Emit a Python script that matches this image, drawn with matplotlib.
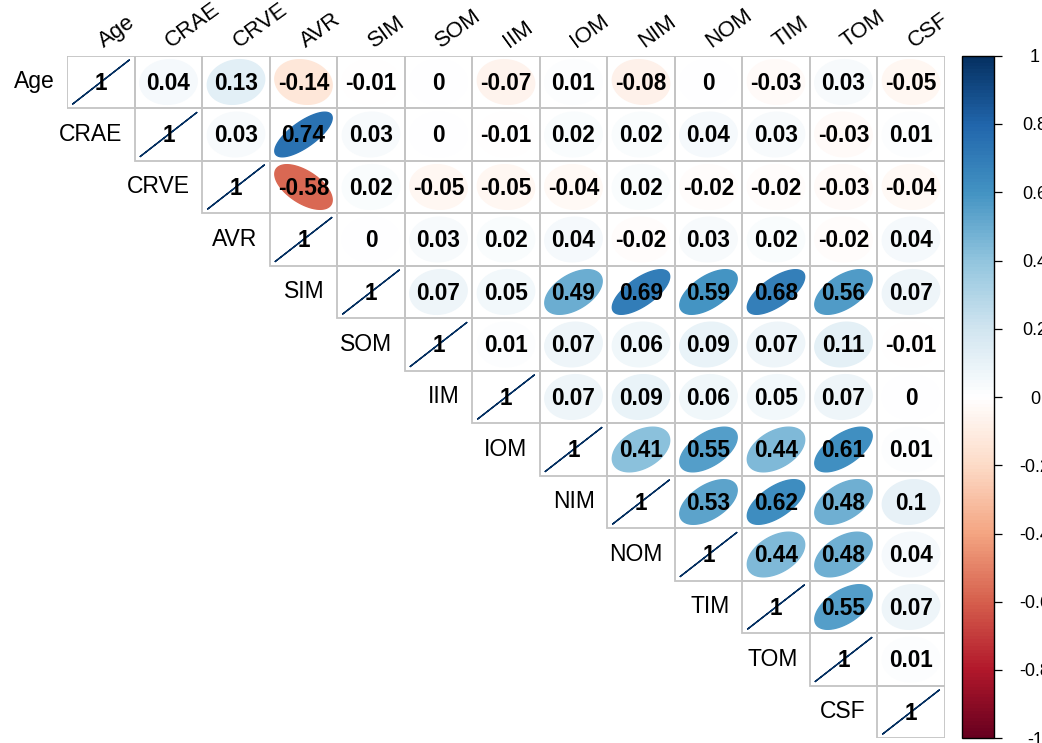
import numpy as np
import matplotlib
matplotlib.use("Agg")
import matplotlib as mpl
import matplotlib.pyplot as plt
from matplotlib.colors import LinearSegmentedColormap, Normalize
from matplotlib.patches import Polygon, Rectangle

# ---------------- data ----------------
labels = ["Age", "CRAE", "CRVE", "AVR", "SIM", "SOM", "IIM", "IOM",
          "NIM", "NOM", "TIM", "TOM", "CSF"]

# upper triangle rows (starting at the diagonal)
row_age  = [1, 0.04, 0.13, -0.14, -0.01, 0, -0.07, 0.01, -0.08, 0, -0.03, 0.03, -0.05]
row_crae = [1, 0.03, 0.74, 0.03, 0, -0.01, 0.02, 0.02, 0.04, 0.03, -0.03, 0.01]
row_crve = [1, -0.58, 0.02, -0.05, -0.05, -0.04, 0.02, -0.02, -0.02, -0.03, -0.04]
row_avr  = [1, 0, 0.03, 0.02, 0.04, -0.02, 0.03, 0.02, -0.02, 0.04]
row_sim  = [1, 0.07, 0.05, 0.49, 0.69, 0.59, 0.68, 0.56, 0.07]
row_som  = [1, 0.01, 0.07, 0.06, 0.09, 0.07, 0.11, -0.01]
row_iim  = [1, 0.07, 0.09, 0.06, 0.05, 0.07, 0]
row_iom  = [1, 0.41, 0.55, 0.44, 0.61, 0.01]
row_nim  = [1, 0.53, 0.62, 0.48, 0.1]
row_nom  = [1, 0.44, 0.48, 0.04]
row_tim  = [1, 0.55, 0.07]
row_tom  = [1, 0.01]
row_csf  = [1]

upper_rows = [row_age, row_crae, row_crve, row_avr, row_sim, row_som, row_iim,
              row_iom, row_nim, row_nom, row_tim, row_tom, row_csf]

cbar_ticks = [1, 0.8, 0.6, 0.4, 0.2, 0, -0.2, -0.4, -0.6, -0.8, -1]
cbar_tick_labels = ["1", "0.8", "0.6", "0.4", "0.2", "0", "-0.2", "-0.4", "-0.6", "-0.8", "-1"]

palette = ["#67001F", "#B2182B", "#D6604D", "#F4A582", "#FDDBC7", "#FFFFFF",
           "#D1E5F0", "#92C5DE", "#4393C3", "#2166AC", "#053061"]

# ---------------- plot ----------------
plt.rcParams['font.family'] = ['Liberation Sans', 'DejaVu Sans']
cmap = LinearSegmentedColormap.from_list("rdbu", palette, N=200)
norm = Normalize(-1, 1)

W, H = 1042, 743
fig = plt.figure(figsize=(W / 100, H / 100), dpi=100)
fig.patch.set_facecolor("white")

left, right, top, bottom = 67.25, 944.75, 55.75, 738.25
ax = fig.add_axes([left / W, 1 - bottom / H, (right - left) / W, (bottom - top) / H])
n = len(labels)
ax.set_xlim(0.5, n + 0.5)
ax.set_ylim(n + 0.5, 0.5)
ax.axis("off")

k = np.linspace(0, 2 * np.pi, 99)


def fmt(v):
    return f"{v:g}"


for i, row in enumerate(upper_rows):
    for off, r in enumerate(row):
        j = i + off
        xc, yc = j + 1, i + 1
        ax.add_patch(Rectangle((xc - 0.5, yc - 0.5), 1, 1, fill=False,
                               edgecolor="#C4C4C4", lw=1.3, zorder=1))
        a = np.arccos(np.clip(r, -1, 1))
        ex = 0.85 * np.cos(k + a / 2) / 2
        ey = 0.85 * np.cos(k - a / 2) / 2
        col = cmap(norm(r))
        ax.add_patch(Polygon(np.column_stack([xc + ex, yc - ey]), closed=True,
                             facecolor=col, edgecolor=col, lw=1.0, zorder=2))
        ax.text(xc, yc + 0.02, fmt(r), ha="center", va="center", fontsize=16.3,
                fontweight="bold", color="black", zorder=3)

# row labels
for i, lab in enumerate(labels):
    ax.text(i + 1 - 0.5 - 0.18, i + 1, lab, ha="right", va="center",
            fontsize=16.5, color="black", clip_on=False)

# column labels
for j, lab in enumerate(labels):
    ax.text(j + 1 + 0.04, 0.5 - 0.15, lab, rotation=36, rotation_mode="anchor",
            ha="left", va="baseline", fontsize=16, color="black", clip_on=False)

# colorbar
cax = fig.add_axes([962 / W, 1 - bottom / H, 32 / W, (bottom - top) / H])
cb = mpl.colorbar.ColorbarBase(cax, cmap=cmap, norm=norm, orientation="vertical")
cb.set_ticks(cbar_ticks)
cb.set_ticklabels(cbar_tick_labels)
cb.outline.set_linewidth(1.0)
cb.outline.set_edgecolor("black")
cax.tick_params(axis="y", length=6, width=0.9, pad=23.5, labelsize=13, colors="black")
for t in cax.get_yticklabels():
    t.set_ha("center")

fig.savefig("out.png", dpi=100, facecolor="white")
